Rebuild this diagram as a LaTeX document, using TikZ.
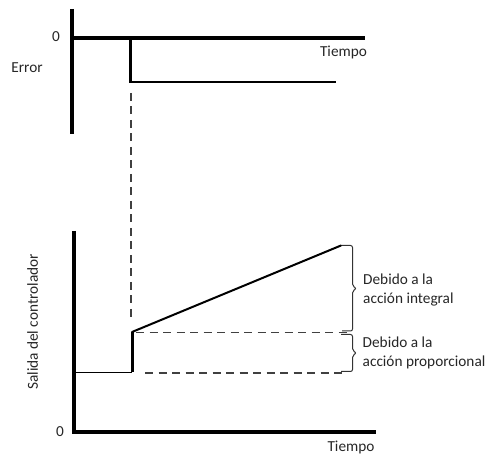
\documentclass[tikz,border=0pt]{standalone}
\usepackage{fontspec}
\setmainfont{Carlito}
\begin{document}
\begin{tikzpicture}[x=1pt,y=-1pt,
  axisline/.style={line width=4pt,black},
  sigline/.style={line width=2.5pt,black},
  guideline/.style={line width=1.5pt,black!75,dash pattern=on 8pt off 5.5pt},
  bracket/.style={line width=1pt,black!80,rounded corners=2pt},
  lbl/.style={inner sep=0pt,text=black!85,font=\fontsize{15.3}{19.5}\selectfont}]
\useasboundingbox (0,0) rectangle (491,457);

% ---- error plot ----
\coordinate (eTop) at (72,9);
\coordinate (eBot) at (72,134);
\coordinate (eZero) at (72,38.5);
\coordinate (eEnd) at (365,38.5);
\coordinate (eStep) at (130.5,38.5);
\coordinate (eLow) at (130.5,82);
\coordinate (eLowEnd) at (336,82);
\draw[axisline] (eTop) -- (eBot);
\draw[axisline] (eZero) -- (eEnd);
\draw[sigline,line cap=butt] (eStep) -- (eLow) -- (eLowEnd);
\node[lbl] (eZeroLbl) at (56,37) {0};
\node[lbl] (eName) at (27,68) {Error};
\node[lbl] (eTime) at (343.5,52.5) {Tiempo};

% ---- controller output plot ----
\coordinate (oTop) at (74,231);
\coordinate (oOrig) at (74,432.5);
\coordinate (oEnd) at (376,432.5);
\draw[axisline] (oTop) -- (oOrig) -- (oEnd);
\node[lbl] (oZeroLbl) at (60,431.5) {0};
\node[lbl] (oTime) at (351,447) {Tiempo};
\node[lbl,rotate=90] (oName) at (32.5,322) {Salida del controlador};

\coordinate (oBase) at (74,372.5);
\coordinate (oJump0) at (132,372.5);
\coordinate (oJump1) at (132,332);
\coordinate (oRampEnd) at (341,245.5);
\draw[line width=1.5pt] (oBase) -- (oJump0);
\draw[line width=3pt] (oJump0) -- (oJump1);
\draw[line width=2pt,line cap=round] (oJump1) -- (oRampEnd);

% guide lines
\coordinate (gTop) at (131,93);
\coordinate (gBot) at (131,322);
\coordinate (gHiEnd) at (347,332.5);
\coordinate (gLoStart) at (145,373);
\coordinate (gLoEnd) at (342,373);
\draw[guideline] (gTop) -- (gBot);
\draw[guideline] (oJump1) ++(4,0.5) coordinate (gHiStart) -- (gHiEnd);
\draw[guideline] (gLoStart) -- (gLoEnd);

% brackets
\draw[bracket] (342,245.5) -- (352.5,245.5) -- (352.5,286) -- (356.5,288.5) -- (352.5,291) -- (352.5,331) -- (342,331);
\draw[bracket] (341,334.5) -- (352.5,334.5) -- (352.5,350.5) -- (356.5,353) -- (352.5,355.5) -- (352.5,371.5) -- (341,371.5);

\node[lbl,align=left,anchor=base west] (txtInt) at (363,304) {Debido a la\\acción integral};
\node[lbl,align=left,anchor=base west] (txtProp) at (362.5,367) {Debido a la\\acción proporcional};
\end{tikzpicture}
\end{document}
